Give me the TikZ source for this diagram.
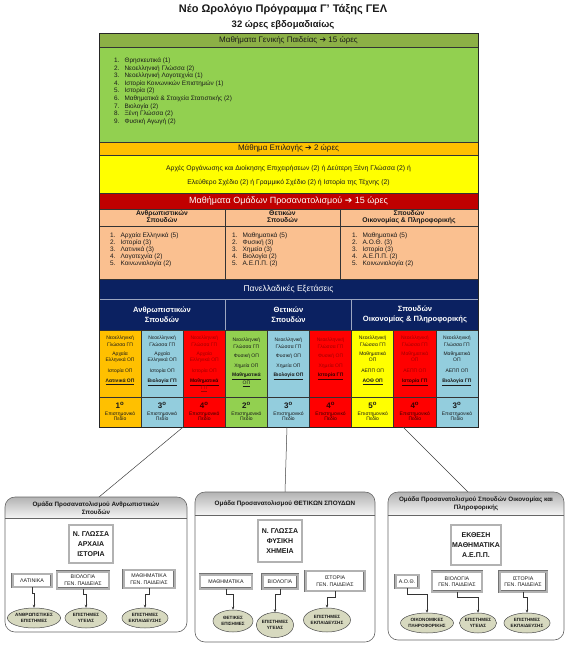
\documentclass[tikz,border=0pt]{standalone}
\usepackage{fontspec}
\setmainfont{Liberation Sans}
\newfontfamily\djv{DejaVu Sans}
\usetikzlibrary{arrows.meta,shapes.geometric}
\newcommand\myfs[2]{\fontsize{#1}{#2}\selectfont}
\newcommand\arr{{\djv ➔}}
\definecolor{hgreen}{HTML}{8CB046}
\definecolor{lgreen}{HTML}{92D050}
\definecolor{corange}{HTML}{FFC000}
\definecolor{cyellow}{HTML}{FFFF00}
\definecolor{dred}{HTML}{C00000}
\definecolor{salmon}{HTML}{FAC090}
\definecolor{navy}{HTML}{0B2161}
\definecolor{lblue}{HTML}{93CDDD}
\definecolor{cred}{HTML}{FF0000}
\definecolor{ellfill}{HTML}{D7D9BF}
\definecolor{txt}{HTML}{1A1A1A}
\definecolor{redtxt}{HTML}{A00000}
\definecolor{darkred}{HTML}{3A0000}
\begin{document}
\begin{tikzpicture}[x=1pt,y=-1pt,
  tline/.style={draw=black!80,line width=0.6pt},
  hdr/.style={font=\myfs{8}{9.5},text=txt,inner sep=0pt},
  whdr/.style={font=\myfs{8.5}{10},text=white,inner sep=0pt},
  lst/.style={font=\myfs{6.4}{7.6},text=txt,align=left,anchor=north west,inner sep=0pt},
  sublst/.style={font=\myfs{6.5}{7.1},text=txt,align=left,anchor=north west,inner sep=0pt},
  cell/.style={font=\myfs{5}{6.2},text=txt,align=center,anchor=north,inner sep=0pt},
  numc/.style={font=\myfs{5}{5.6},text=txt,align=center,inner sep=0pt},
  gbox/.style={draw=black!60,line width=0.6pt,rounded corners=10pt},
  gtitle/.style={font=\bfseries\myfs{6.3}{7.6},text=txt,align=center,inner sep=0pt},
  frm/.style={draw=black!55,line width=0.4pt,double=black!30,double distance=2pt,fill=white,align=center,inner sep=1pt,text=txt},
  bigfrm/.style={frm,font=\bfseries\myfs{7}{10}},
  smfrm/.style={frm,font=\myfs{5.3}{6.5}},
  ell/.style={ellipse,draw=black!70,line width=0.5pt,fill=ellfill,align=center,inner sep=0pt,font=\bfseries\myfs{4.6}{5.6},text=txt},
  conn/.style={draw=black!80,line width=0.5pt,-{Stealth[length=3pt,width=2.6pt]}},
  lnk/.style={draw=black!75,line width=0.5pt}
]
\useasboundingbox (0,0) rectangle (566,651);
\fill[white] (0,0) rectangle (566,651);

% titles
\node[font=\bfseries\myfs{11}{13},text=txt] (title) at (283,10) {Νέο Ωρολόγιο Πρόγραμμα Γ' Τάξης ΓΕΛ};
\node[font=\bfseries\myfs{9.5}{11},text=txt] (subtitle) at (283,25) {32 ώρες εβδομαδιαίως};

% section fills
\fill[hgreen] (99,33) rectangle (478,47);
\fill[lgreen] (99,47) rectangle (478,142);
\fill[corange] (99,142) rectangle (478,155);
\fill[cyellow] (99,155) rectangle (478,193);
\fill[dred] (99,193) rectangle (478,209);
\fill[salmon] (99,209) rectangle (478,279);
\fill[navy] (99,279) rectangle (478,330);
\foreach \c [count=\i] in {corange,lblue,cred,lgreen,lblue,cred,cyellow,cred,lblue}
  \fill[\c] ({99+(\i-1)*42.111},330) rectangle ({99+\i*42.111},427);

% lines
\foreach \yy in {47,142,155,193,209,279,330,397}
  \draw[tline] (99,\yy) -- (478,\yy);
\draw[tline] (99,226) -- (478,226);
\draw[tline] (225,209) -- (225,279);
\draw[tline] (340,209) -- (340,279);
\draw[draw=white!60!navy,line width=0.6pt] (99,299) -- (478,299);
\draw[draw=white!60!navy,line width=0.6pt] (225.3,299) -- (225.3,330);
\draw[draw=white!60!navy,line width=0.6pt] (351.7,299) -- (351.7,330);
\foreach \i in {1,...,8}
  \draw[tline] ({99+\i*42.111},330) -- ({99+\i*42.111},427);
\draw[draw=black!85,line width=1pt] (99,33) rectangle (478,427);

% green section
\node[hdr] (ghdr) at (288.5,40) {Μαθήματα Γενικής Παιδείας \arr{} 15 ώρες};
\node[lst] (glist) at (114,57.5) {1.\hspace{5pt}Θρησκευτικά (1)\\2.\hspace{5pt}Νεοελληνική Γλώσσα (2)\\3.\hspace{5pt}Νεοελληνική Λογοτεχνία (1)\\4.\hspace{5pt}Ιστορία Κοινωνικών Επιστημών (1)\\5.\hspace{5pt}Ιστορία (2)\\6.\hspace{5pt}Μαθηματικά \& Στοιχεία Στατιστικής (2)\\7.\hspace{5pt}Βιολογία (2)\\8.\hspace{5pt}Ξένη Γλώσσα (2)\\9.\hspace{5pt}Φυσική Αγωγή (2)};

% elective
\node[hdr] (ohdr) at (288.5,148.5) {Μάθημα Επιλογής \arr{} 2 ώρες};
\node[font=\myfs{6.8}{14},text=txt,align=center,inner sep=0pt] (ytext) at (288.5,175.5) {Αρχές Οργάνωσης και Διοίκησης Επιχειρήσεων (2) ή Δεύτερη Ξένη Γλώσσα (2) ή\\Ελεύθερο Σχέδιο (2) ή Γραμμικό Σχέδιο (2) ή Ιστορία της Τέχνης (2)};

% orientation
\node[whdr,font=\myfs{9}{10}] (rhdr) at (288.5,201) {Μαθήματα Ομάδων Προσανατολισμού \arr{} 15 ώρες};
\node[font=\bfseries\myfs{6.8}{7}, text=txt,align=center,inner sep=0pt] (sh1) at (162,217) {Ανθρωπιστικών\\Σπουδών};
\node[font=\bfseries\myfs{6.8}{7}, text=txt,align=center,inner sep=0pt] (sh2) at (282.5,217) {Θετικών\\Σπουδών};
\node[font=\bfseries\myfs{6.8}{7}, text=txt,align=center,inner sep=0pt] (sh3) at (409,217) {Σπουδών\\Οικονομίας \& Πληροφορικής};
\node[sublst] (sl1) at (110,232) {1.\hspace{5pt}Αρχαία Ελληνικά (5)\\2.\hspace{5pt}Ιστορία (3)\\3.\hspace{5pt}Λατινικά (3)\\4.\hspace{5pt}Λογοτεχνία (2)\\5.\hspace{5pt}Κοινωνιολογία (2)};
\node[sublst] (sl2) at (232,232) {1.\hspace{5pt}Μαθηματικά (5)\\2.\hspace{5pt}Φυσική (3)\\3.\hspace{5pt}Χημεία (3)\\4.\hspace{5pt}Βιολογία (2)\\5.\hspace{5pt}Α.Ε.Π.Π. (2)};
\node[sublst] (sl3) at (352,232) {1.\hspace{5pt}Μαθηματικά (5)\\2.\hspace{5pt}Α.Ο.Θ. (3)\\3.\hspace{5pt}Ιστορία (3)\\4.\hspace{5pt}Α.Ε.Π.Π. (2)\\5.\hspace{5pt}Κοινωνιολογία (2)};

% panhellenic
\node[whdr] (nhdr) at (288.5,289) {Πανελλαδικές Εξετάσεις};
\node[font=\bfseries\myfs{7.6}{10},text=white,align=center,inner sep=0pt] (ph1) at (162,314.5) {Ανθρωπιστικών\\Σπουδών};
\node[font=\bfseries\myfs{7.6}{10},text=white,align=center,inner sep=0pt] (ph2) at (288.5,314.5) {Θετικών\\Σπουδών};
\node[font=\bfseries\myfs{7.6}{10},text=white,align=center,inner sep=0pt] (ph3) at (415,314.5) {Σπουδών\\Οικονομίας \& Πληροφορικής};

% cells
\node[cell] (c1) at (120.1,336) {Νεοελληνική\\Γλώσσα ΓΠ\\[3.4pt]Αρχαία\\Ελληνικά ΟΠ\\[4pt]Ιστορία ΟΠ\\[4pt]\bfseries\underline{Λατινικά ΟΠ}};
\node[cell] (c2) at (162.2,336) {Νεοελληνική\\Γλώσσα ΓΠ\\[3.4pt]Αρχαία\\Ελληνικά ΟΠ\\[4pt]Ιστορία ΟΠ\\[4pt]\bfseries\underline{Βιολογία ΓΠ}};
\node[cell,text=redtxt] (c3) at (204.3,336) {Νεοελληνική\\Γλώσσα ΓΠ\\[3.4pt]Αρχαία\\Ελληνικά ΟΠ\\[4pt]Ιστορία ΟΠ\\[4pt]\bfseries\color{darkred}\underline{Μαθηματικά}\\\underline{ΓΠ}};
\node[cell] (c4) at (246.4,338) {Νεοελληνική\\Γλώσσα ΓΠ\\[3.4pt]Φυσική ΟΠ\\[3.4pt]Χημεία ΟΠ\\[3.4pt]\bfseries\underline{Μαθηματικά}\\\underline{ΟΠ}};
\node[cell] (c5) at (288.5,338) {Νεοελληνική\\Γλώσσα ΓΠ\\[3.4pt]Φυσική ΟΠ\\[3.4pt]Χημεία ΟΠ\\[3.4pt]\bfseries\underline{Βιολογία ΟΠ}};
\node[cell,text=redtxt] (c6) at (330.6,338) {Νεοελληνική\\Γλώσσα ΓΠ\\[3.4pt]Φυσική ΟΠ\\[3.4pt]Χημεία ΟΠ\\[3.4pt]\bfseries\color{darkred}\underline{Ιστορία ΓΠ}};
\node[cell] (c7) at (372.7,336) {Νεοελληνική\\Γλώσσα ΓΠ\\[3.4pt]Μαθηματικά\\ΟΠ\\[4pt]ΑΕΠΠ ΟΠ\\[4pt]\bfseries\underline{ΑΟΘ ΟΠ}};
\node[cell,text=redtxt] (c8) at (414.8,336) {Νεοελληνική\\Γλώσσα ΓΠ\\[3.4pt]Μαθηματικά\\ΟΠ\\[4pt]ΑΕΠΠ ΟΠ\\[4pt]\bfseries\color{darkred}\underline{Ιστορία ΓΠ}};
\node[cell] (c9) at (456.9,336) {Νεοελληνική\\Γλώσσα ΓΠ\\[3.4pt]Μαθηματικά\\ΟΠ\\[4pt]ΑΕΠΠ ΟΠ\\[4pt]\bfseries\underline{Βιολογία ΓΠ}};

% number row
\foreach \n/\c [count=\i] in {1/txt,3/txt,4/darkred,2/txt,3/txt,4/darkred,5/txt,4/darkred,3/txt}
  \node[numc,text=\c] (n\i) at ({99+(\i-0.5)*42.111},411.5) {{\bfseries\myfs{8}{8}\n\textsuperscript{ο}}\\[1pt]Επιστημονικό\\Πεδίο};

% links to groups
\coordinate (L1) at (183.2,427);
\coordinate (L2) at (99,497);
\coordinate (M1) at (287,427);
\coordinate (M2) at (285,492);
\coordinate (R1) at (403,427);
\coordinate (R2) at (468,492);
\draw[lnk] (L1) -- (L2);
\draw[lnk] (M1) -- (M2);
\draw[lnk] (R1) -- (R2);

% ---------- left group box
\fill[white,rounded corners=10pt] (5,497) rectangle (187,632);
\begin{scope}
  \clip[rounded corners=10pt] (5,497) rectangle (187,632);
  \shade[top color=black!30,bottom color=black!4] (5,497) rectangle (187,518);
\end{scope}
\draw[black!60,line width=0.5pt] (5,518) -- (187,518);
\draw[gbox] (5,497) rectangle (187,632);
\node[gtitle] (lt) at (96,508) {Ομάδα Προσανατολισμού Ανθρωπιστικών\\Σπουδών};
\node[bigfrm,minimum width=44pt,minimum height=38pt] (lbig) at (91,544) {Ν. ΓΛΩΣΣΑ\\ΑΡΧΑΙΑ\\ΙΣΤΟΡΙΑ};
\node[smfrm,minimum width=39pt,minimum height=13pt] (ls1) at (32,580.5) {ΛΑΤΙΝΙΚΑ};
\node[smfrm,minimum width=52pt,minimum height=17pt] (ls2) at (83,580) {ΒΙΟΛΟΓΙΑ\\ΓΕΝ. ΠΑΙΔΕΙΑΣ};
\node[smfrm,minimum width=51pt,minimum height=18pt] (ls3) at (149,579) {ΜΑΘΗΜΑΤΙΚΑ\\ΓΕΝ. ΠΑΙΔΕΙΑΣ};
\node[ell,minimum width=45pt,minimum height=20pt] (le1) at (34,618) {ΑΝΘΡΩΠΙΣΤΙΚΕΣ\\ΕΠΙΣΤΗΜΕΣ};
\node[ell,minimum width=42pt,minimum height=20pt] (le2) at (86,618) {ΕΠΙΣΤΗΜΕΣ\\ΥΓΕΙΑΣ};
\node[ell,minimum width=44pt,minimum height=20pt] (le3) at (145,618) {ΕΠΙΣΤΗΜΕΣ\\ΕΚΠΑΙΔΕΥΣΗΣ};
\draw[conn] (ls1.south) -- ++(0,6) -| (le1.north);
\draw[conn] (ls2.south) -- ++(0,6) -| (le2.north);
\draw[conn] (ls3.south) -- ++(0,6) -| (le3.north);

% ---------- middle group box
\fill[white,rounded corners=10pt] (195,492) rectangle (375,642);
\begin{scope}
  \clip[rounded corners=10pt] (195,492) rectangle (375,642);
  \shade[top color=black!30,bottom color=black!4] (195,492) rectangle (375,515);
\end{scope}
\draw[black!60,line width=0.5pt] (195,515) -- (375,515);
\draw[gbox] (195,492) rectangle (375,642);
\node[gtitle] (mt) at (285,503.5) {Ομάδα Προσανατολισμού ΘΕΤΙΚΩΝ ΣΠΟΥΔΩΝ};
\node[bigfrm,minimum width=44pt,minimum height=42pt] (mbig) at (280,541) {Ν. ΓΛΩΣΣΑ\\ΦΥΣΙΚΗ\\ΧΗΜΕΙΑ};
\node[smfrm,minimum width=52pt,minimum height=14pt] (ms1) at (226,581.5) {ΜΑΘΗΜΑΤΙΚΑ};
\node[smfrm,minimum width=35pt,minimum height=14pt] (ms2) at (280,581.5) {ΒΙΟΛΟΓΙΑ};
\node[smfrm,minimum width=59pt,minimum height=20pt] (ms3) at (335,581) {ΙΣΤΟΡΙΑ\\ΓΕΝ. ΠΑΙΔΕΙΑΣ};
\node[ell,minimum width=40pt,minimum height=22pt] (me1) at (233,621) {ΘΕΤΙΚΕΣ\\ΕΠΙΣΗΜΕΣ};
\node[ell,minimum width=37pt,minimum height=25pt] (me2) at (275,625) {ΕΠΙΣΤΗΜΕΣ\\ΥΓΕΙΑΣ};
\node[ell,minimum width=47pt,minimum height=24pt] (me3) at (327,620) {ΕΠΙΣΤΗΜΕΣ\\ΕΚΠΑΙΔΕΥΣΗΣ};
\draw[conn] (ms1.south) -- ++(0,6) -| (me1.north);
\draw[conn] (ms2.south) -- ++(0,6) -| (me2.north);
\draw[conn] (ms3.south) -- ++(0,6) -| (me3.north);

% ---------- right group box
\fill[white,rounded corners=10pt] (388,492) rectangle (564,640);
\begin{scope}
  \clip[rounded corners=10pt] (388,492) rectangle (564,640);
  \shade[top color=black!30,bottom color=black!4] (388,492) rectangle (564,515);
\end{scope}
\draw[black!60,line width=0.5pt] (388,515) -- (564,515);
\draw[gbox] (388,492) rectangle (564,640);
\node[gtitle] (rt) at (476,503.5) {Ομάδα Προσανατολισμού Σπουδών Οικονομίας και\\Πληροφορικής};
\node[bigfrm,minimum width=48pt,minimum height=40pt] (rbig) at (476,545) {ΕΚΘΕΣΗ\\ΜΑΘΗΜΑΤΙΚΑ\\Α.Ε.Π.Π.};
\node[smfrm,minimum width=23pt,minimum height=13pt] (rs1) at (407,581.5) {Α.Ο.Θ.};
\node[smfrm,minimum width=50pt,minimum height=20pt] (rs2) at (457,581.5) {ΒΙΟΛΟΓΙΑ\\ΓΕΝ. ΠΑΙΔΕΙΑΣ};
\node[smfrm,minimum width=47pt,minimum height=20pt] (rs3) at (523,581.5) {ΙΣΤΟΡΙΑ\\ΓΕΝ. ΠΑΙΔΕΙΑΣ};
\node[ell,minimum width=50pt,minimum height=20pt] (re1) at (427,623) {ΟΙΚΟΝΟΜΙΚΕΣ\\ΠΛΗΡΟΦΟΡΙΚΗΣ};
\node[ell,minimum width=34pt,minimum height=20pt] (re2) at (478,623) {ΕΠΙΣΤΗΜΕΣ\\ΥΓΕΙΑΣ};
\node[ell,minimum width=42pt,minimum height=20pt] (re3) at (527,623) {ΕΠΙΣΤΗΜΕΣ\\ΕΚΠΑΙΔΕΥΣΗΣ};
\draw[conn] (rs1.south) -- ++(0,6) -| (re1.north);
\draw[conn] (rs2.south) -- ++(0,6) -| (re2.north);
\draw[conn] (rs3.south) -- ++(0,6) -| (re3.north);
\end{tikzpicture}
\end{document}
